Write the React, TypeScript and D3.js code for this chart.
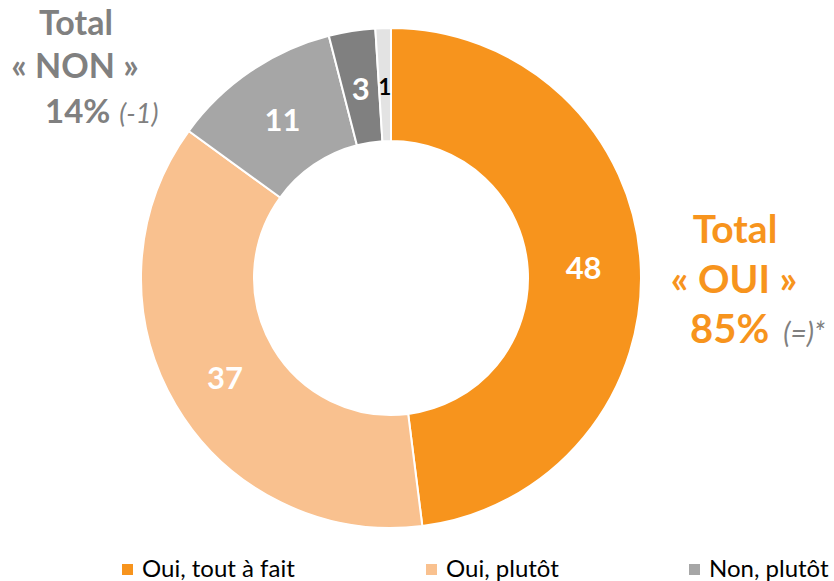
import React from "react";
import * as d3 from "d3";

const categories = ["Oui, tout à fait", "Oui, plutôt", "Non, plutôt", "Non, pas du tout", "NSP"];
const values = [48, 37, 11, 3, 1];
const colors = ["#F7941D", "#F9C18F", "#A6A6A6", "#808080", "#E3E3E3"];
const labelColors = ["#FFFFFF", "#FFFFFF", "#FFFFFF", "#FFFFFF", "#000000"];
const labelSizes = [31, 31, 31, 31, 22];
const legendItems = ["Oui, tout à fait", "Oui, plutôt", "Non, plutôt"];

const W = 834;
const H = 581;
const cx = 391;
const cy = 278;
const outerR = 250;
const innerR = 137;
const labelR = 193;
const FONT = "Lato, 'Open Sans', sans-serif";

export default function App() {
  const pie = d3.pie<number>().sort(null).value((d) => d);
  const arcs = pie(values);
  const arcGen = d3.arc<d3.PieArcDatum<number>>().innerRadius(innerR).outerRadius(outerR);
  const labelArc = d3.arc<d3.PieArcDatum<number>>().innerRadius(labelR).outerRadius(labelR);
  const legendX = [122, 426, 689];

  return (
    <div style={{ position: "absolute", left: 0, top: 0 }}>
      <svg width={W} height={H} style={{ display: "block", background: "#fff" }} fontFamily={FONT}>
        <g transform={`translate(${cx},${cy})`}>
          {arcs.map((a, i) => (
            <path key={categories[i]} d={arcGen(a) || ""} fill={colors[i]} stroke="#fff" strokeWidth={2} />
          ))}
          {arcs.map((a, i) => {
            const [x, y] = labelArc.centroid(a);
            return (
              <text
                key={"l" + i}
                x={x}
                y={y + 1}
                textAnchor="middle"
                dominantBaseline="central"
                fill={labelColors[i]}
                fontSize={labelSizes[i]}
                fontWeight="bold"
              >
                {values[i]}
              </text>
            );
          })}
        </g>
        {/* Total NON */}
        <g fill="#808080" fontWeight="bold" fontSize={34}>
          <text x={76} y={35} textAnchor="middle">Total</text>
          <text x={75} y={78} textAnchor="middle">« NON »</text>
          <text x={45} y={123} fontSize={33}>
            14%
            <tspan fontSize={27} fontStyle="italic" fontWeight="normal" dx={9}>(-1)</tspan>
          </text>
        </g>
        {/* Total OUI */}
        <g fill="#F7941D" fontWeight="bold" fontSize={39}>
          <text x={735} y={243} textAnchor="middle">Total</text>
          <text x={734} y={293} textAnchor="middle">« OUI »</text>
          <text x={690} y={343} fontSize={40}>
            85%
            <tspan fill="#808080" fontSize={28} fontStyle="italic" fontWeight="normal" dx={14}>(=)*</tspan>
          </text>
        </g>
        {/* Legend */}
        {legendItems.map((t, i) => (
          <g key={t} transform={`translate(${legendX[i]},564)`}>
            <rect x={0} y={0} width={11} height={11} fill={colors[i]} />
            <text x={20} y={13} fontSize={24} fill="#000">{t}</text>
          </g>
        ))}
      </svg>
    </div>
  );
}
